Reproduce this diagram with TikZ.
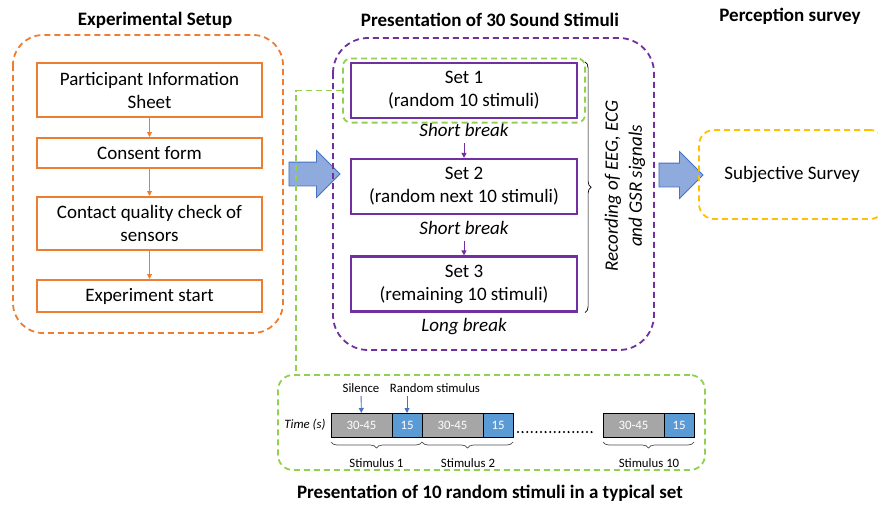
\documentclass[tikz,border=0pt]{standalone}
\usepackage{fontspec}
\setmainfont{Carlito}
\usetikzlibrary{arrows.meta,shapes.arrows,decorations.pathreplacing,fit,positioning}

\definecolor{setuporange}{RGB}{237,125,49}
\definecolor{setpurple}{RGB}{112,48,160}
\definecolor{typgreen}{RGB}{146,208,80}
\definecolor{surveyyellow}{RGB}{255,192,0}
\definecolor{bigarrowfill}{RGB}{143,170,220}
\definecolor{bigarrowedge}{RGB}{68,114,196}
\definecolor{silencegray}{RGB}{166,166,166}
\definecolor{stimblue}{RGB}{91,155,213}

\tikzset{
  bodytxt/.style={font=\fontsize{19}{23}\selectfont, align=center},
  brktxt/.style={font=\fontsize{19}{23}\selectfont\itshape},
  headtxt/.style={font=\fontsize{19}{22}\selectfont\bfseries},
  smalltxt/.style={font=\fontsize{12.8}{15}\selectfont},
  setupbox/.style={draw=setuporange, line width=2pt, bodytxt, minimum width=225, inner sep=0},
  setbox/.style={draw=setpurple, line width=2.2pt, bodytxt, minimum width=226, minimum height=55, inner sep=0},
  dashframe/.style={dash pattern=on 6pt off 4pt, line width=1.8pt},
  bigarrow/.style={single arrow, draw=bigarrowedge, fill=bigarrowfill, line width=0.8pt,
    inner sep=11.5pt, single arrow head extend=11.5pt, minimum height=#1, outer sep=0},
  silbox/.style={draw, line width=0.8pt, fill=silencegray, text=white, smalltxt,
    minimum width=61, minimum height=24, inner sep=0, outer sep=0},
  stimbox/.style={silbox, fill=stimblue, minimum width=30},
  smallarr/.style={-{Triangle[length=5pt,width=5pt]}, line width=0.9pt},
  brc/.style={decorate, decoration={brace, amplitude=6pt}, line width=0.7pt}
}

\begin{document}
\begin{tikzpicture}[x=1pt, y=-1pt]
  \useasboundingbox (0,0) rectangle (878,504);

  \node[bigarrow=51] (tostim) at (308.5,174) {};
  \node[bigarrow=44] (tosurvey) at (675,175) {};

  \node[headtxt] (setuphd) at (155,20) {Experimental Setup};
  \node[headtxt] (stimhd) at (490,20) {Presentation of 30 Sound Stimuli};
  \node[headtxt] (surveyhd) at (790,16) {Perception survey};
  \node[headtxt] (typhd) at (490,493) {Presentation of 10 random stimuli in a typical set};

  \draw[setuporange, dashframe, rounded corners=30] (13,35) rectangle (283,333);
  \node[setupbox, minimum height=54] (info) at (149.5,90) {Participant Information\\Sheet};
  \node[setupbox, minimum height=30] (consent) at (149.5,153) {Consent form};
  \node[setupbox, minimum height=53] (contact) at (149.5,223.5) {Contact quality check of\\sensors};
  \node[setupbox, minimum height=32] (start) at (149.5,296) {Experiment start};
  \foreach \a/\b in {info/consent, consent/contact, contact/start}
    \draw[smallarr, setuporange] (\a) -- (\b);

  \draw[setpurple, dashframe, rounded corners=35] (333,38) rectangle (654,350);
  \node[setbox] (set1) at (464,90.5) {Set 1\\(random 10 stimuli)};
  \node[setbox] (set2) at (464,186.5) {Set 2\\(random next 10 stimuli)};
  \node[setbox] (set3) at (464,284) {Set 3\\(remaining 10 stimuli)};
  \node[brktxt] (brk1) at (464,130) {Short break};
  \node[brktxt] (brk2) at (464,228) {Short break};
  \node[brktxt] (brk3) at (464,327) {Long break};
  \draw[smallarr, setpurple, shorten <=3pt] (brk1) -- (set2);
  \draw[smallarr, setpurple, shorten <=3pt] (brk2) -- (set3);

  \draw[brc] ([xshift=7pt]set1.north east) -- ([xshift=7pt]set3.south east);
  \node[brktxt, align=center, font=\fontsize{19}{24}\selectfont\itshape, rotate=90] (rec) at (625,186)
    {Recording of EEG, ECG\\and GSR signals};

  \node[draw=surveyyellow, dashframe, rounded corners=15, minimum width=186, minimum height=89, bodytxt]
    (survey) at (792,174.5) {Subjective Survey};

  \node[draw=typgreen, dashframe, rounded corners=8, fit=(set1), inner xsep=7pt, inner ysep=3.5pt] (set1frame) {};
  \node[draw=typgreen, dashframe, rounded corners=15, minimum width=427, minimum height=95] (typset) at (491.5,422.5) {};
  \draw[typgreen, dashframe] (set1frame.west) -| ([xshift=19pt]typset.north west);

  \node[silbox] (g1) at (361.5,425) {30-45};
  \node[stimbox, right=0pt of g1] (b1) {15};
  \node[silbox, right=0pt of b1] (g2) {30-45};
  \node[stimbox, right=0pt of g2] (b2) {15};
  \node[silbox] (g3) at (633.5,425) {30-45};
  \node[stimbox, right=0pt of g3] (b3) {15};
  \node[smalltxt, font=\fontsize{12.8}{15}\selectfont\itshape, left=2pt of g1] (timelbl) {Time (s)};
  \draw[line width=2.3pt, line cap=round, dash pattern=on 0pt off 4.6pt, shorten <=5pt, shorten >=8pt]
    ([yshift=5pt]b2.south east) -- ([yshift=5pt]g3.south west);

  \node[smalltxt] (sil) at (361,388) {Silence};
  \node[smalltxt] (rnd) at (435,388) {Random stimulus};
  \draw[smallarr, bigarrowedge] (sil) -- (g1);
  \draw[smallarr, bigarrowedge] (rnd.south -| b1) -- (b1);

  \draw[brc, black!70] ([yshift=-5pt]b1.south east) -- ([yshift=-5pt]g1.south west);
  \draw[brc, black!70] ([yshift=-5pt]b2.south east) -- ([yshift=-5pt]g2.south west);
  \draw[brc, black!70] ([yshift=-5pt]b3.south east) -- ([yshift=-5pt]g3.south west);
  \node[smalltxt] (st1) at (376.5,463) {Stimulus 1};
  \node[smalltxt] (st2) at (468,463) {Stimulus 2};
  \node[smalltxt] (st10) at (649,463) {Stimulus 10};
\end{tikzpicture}
\end{document}
